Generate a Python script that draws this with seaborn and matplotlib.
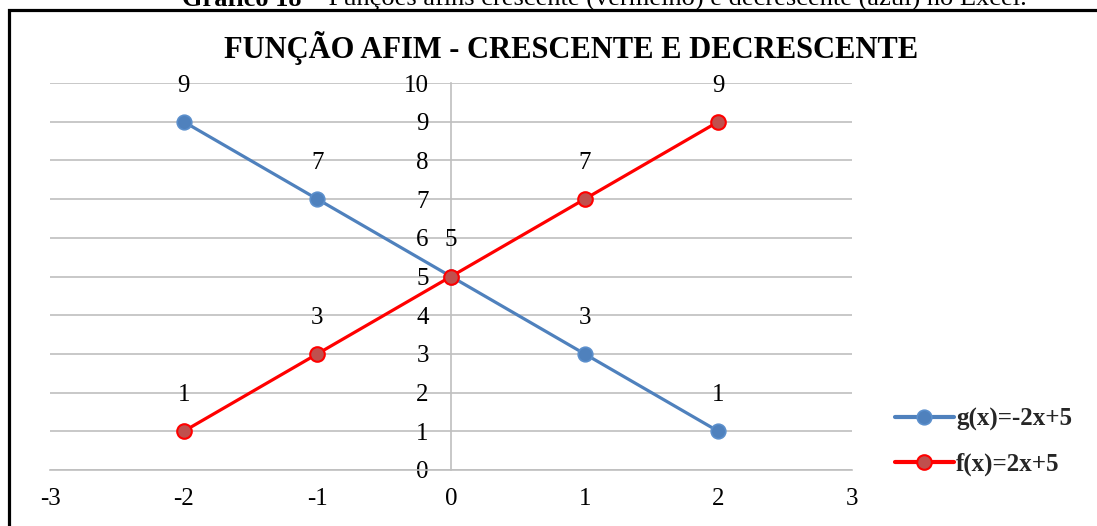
import matplotlib
matplotlib.use("Agg")
import matplotlib.pyplot as plt
import seaborn as sns
import pandas as pd
from matplotlib.patches import Rectangle

x_vals = [-2, -1, 0, 1, 2]
g_vals = [9, 7, 5, 3, 1]
f_vals = [1, 3, 5, 7, 9]
g_label = "g(x)=-2x+5"
f_label = "f(x)=2x+5"
x_ticks = [-3, -2, -1, 0, 1, 2, 3]
y_ticks = list(range(0, 11))
title = "FUNÇÃO AFIM - CRESCENTE E DECRESCENTE"
caption_bold = "Gráfico 18"
caption_rest = " – Funções afins crescente (vermelho) e decrescente (azul) no Excel."

sns.set_theme(style="white")
plt.rcParams['font.family'] = ['Liberation Serif', 'DejaVu Serif']
plt.rcParams['axes.unicode_minus'] = False

fig = plt.figure(figsize=(10.97, 5.26), dpi=100)
ax = fig.add_axes([50/1097, 1-470/526, (852-50)/1097, (470-83)/526])

blue = "#4F81BD"
red = "#FF0000"

df = pd.DataFrame({"x": x_vals * 2,
                   "y": g_vals + f_vals,
                   "serie": [g_label]*len(x_vals) + [f_label]*len(x_vals)})

sns.lineplot(data=df[df.serie == g_label], x="x", y="y", ax=ax, color=blue,
             linewidth=2.3, marker="o", markersize=10.5, markerfacecolor=blue,
             markeredgecolor="#5B8FCC", markeredgewidth=1.2, label=g_label, zorder=3)
sns.lineplot(data=df[df.serie == f_label], x="x", y="y", ax=ax, color=red,
             linewidth=2.3, marker="o", markersize=10.5, markerfacecolor="#C0504D",
             markeredgecolor=red, markeredgewidth=1.5, label=f_label, zorder=4)

for xv, yv in zip(x_vals, g_vals):
    ax.annotate(str(yv), (xv, yv), xytext=(0, 18), textcoords="offset points",
                ha="center", va="bottom", fontsize=18, color="black")
for xv, yv in zip(x_vals, f_vals):
    if xv == 0:
        continue
    ax.annotate(str(yv), (xv, yv), xytext=(0, 18), textcoords="offset points",
                ha="center", va="bottom", fontsize=18, color="black")

ax.set_xlim(-3, 3)
ax.set_ylim(0, 10)
ax.set_xticks(x_ticks)
ax.set_yticks(y_ticks)
ax.set_xlabel("")
ax.set_ylabel("")

ax.grid(axis="y", color="#BFBFBF", linewidth=1.2)
ax.grid(axis="x", visible=False)
for s in ["top", "right"]:
    ax.spines[s].set_visible(False)
ax.spines["left"].set_position(("data", 0))
ax.spines["left"].set_color("#BFBFBF")
ax.spines["left"].set_linewidth(1.2)
ax.spines["bottom"].set_color("#BFBFBF")
ax.spines["bottom"].set_linewidth(1.2)
ax.spines["left"].set_zorder(1)
ax.tick_params(axis="y", length=0, pad=16, labelsize=18, colors="black")
ax.tick_params(axis="x", length=0, pad=13, labelsize=18, colors="black")
ax.set_facecolor("none")

leg = ax.legend(loc="upper left", bbox_to_anchor=(885/1097, 1-398/526),
                bbox_transform=fig.transFigure, frameon=False,
                prop={"family": "Liberation Serif", "weight": "bold", "size": 18},
                handlelength=2.35, handletextpad=0.1, labelspacing=0.85, borderaxespad=0)
for ln in leg.get_lines():
    ln.set_linewidth(3.0)

fig.text(571/1097, 1-48/526, title, ha="center", va="center",
         fontsize=22, fontweight="bold", color="black")

# caption (cut off at top edge as in the reference)
t1 = fig.text(182/1097, 1-6/526, caption_bold, ha="left", va="baseline",
              fontsize=19, fontweight="bold", color="black")
fig.canvas.draw()
bb = t1.get_window_extent()
fig.text(bb.x1/1097, 1-6/526, caption_rest, ha="left", va="baseline",
         fontsize=19, color="black")

fig.add_artist(Rectangle((9/1097, -0.05), 1.1, 1-10/526+0.05, transform=fig.transFigure,
                         fill=False, edgecolor="black", linewidth=2.3))

fig.savefig("out.png", dpi=100)
